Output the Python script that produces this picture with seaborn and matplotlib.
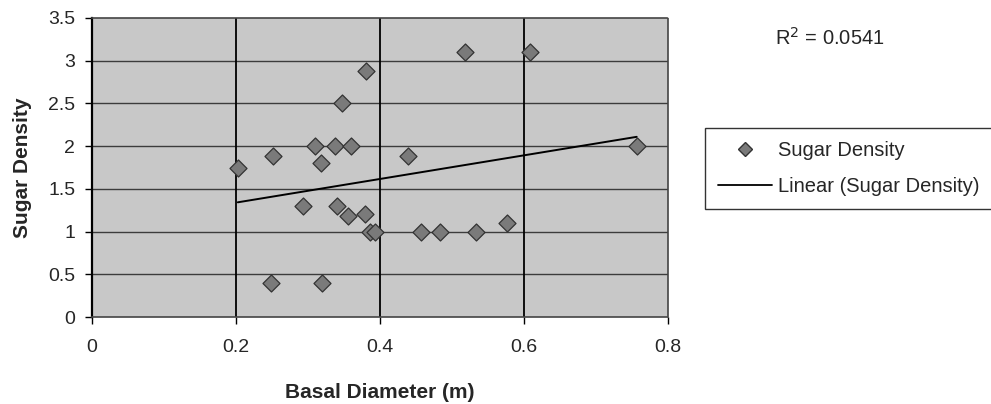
import numpy as np
import pandas as pd
import matplotlib
matplotlib.use("Agg")
import matplotlib.pyplot as plt
import seaborn as sns
from matplotlib.lines import Line2D

# Data
basal_diameter = [0.2025, 0.251, 0.310, 0.3375, 0.360, 0.318, 0.3806, 0.347, 0.439,
                  0.2926, 0.340, 0.356, 0.379, 0.386, 0.393, 0.248, 0.320,
                  0.518, 0.609, 0.7565, 0.4565, 0.483, 0.534, 0.577]
sugar_density = [1.75, 1.88, 2.0, 2.0, 2.0, 1.8, 2.88, 2.5, 1.88,
                 1.3, 1.3, 1.18, 1.2, 1.0, 1.0, 0.4, 0.4,
                 3.1, 3.1, 2.0, 1.0, 1.0, 1.0, 1.1]
r2_label = "R$^2$ = 0.0541"
x_ticks = [0, 0.2, 0.4, 0.6, 0.8]
x_tick_labels = ['0', '0.2', '0.4', '0.6', '0.8']
y_ticks = [0, 0.5, 1, 1.5, 2, 2.5, 3, 3.5]
y_tick_labels = ['0', '0.5', '1', '1.5', '2', '2.5', '3', '3.5']

df = pd.DataFrame({"Basal Diameter (m)": basal_diameter, "Sugar Density": sugar_density})

sns.set_theme(style="white")
plt.rcParams['font.family'] = ['Liberation Sans', 'DejaVu Sans']

fig = plt.figure(figsize=(9.91, 4.04), dpi=100)
ax = fig.add_axes([92/991, 1 - 317/404, (668-92)/991, (317-18)/404])
ax.set_facecolor('#c8c8c8')

# trend line
slope, intercept = np.polyfit(basal_diameter, sugar_density, 1)
xs = np.array([min(basal_diameter), max(basal_diameter)])
trend = pd.DataFrame({"x": xs, "y": slope * xs + intercept})
sns.lineplot(data=trend, x="x", y="y", ax=ax, color='black', lw=1.4, zorder=3)

sns.scatterplot(data=df, x="Basal Diameter (m)", y="Sugar Density", ax=ax,
                marker='D', s=75, color='#7a7a7a', edgecolor='#333333',
                linewidth=0.9, zorder=4)

ax.set_xlim(0, 0.8)
ax.set_ylim(0, 3.5)
ax.set_xticks(x_ticks)
ax.set_xticklabels(x_tick_labels)
ax.set_yticks(y_ticks)
ax.set_yticklabels(y_tick_labels)
ax.tick_params(axis='both', labelsize=14, length=5, width=1, color='black',
               direction='out', bottom=True, left=True)
ax.tick_params(axis='x', pad=11)
ax.tick_params(axis='y', pad=7)

for y in y_ticks[1:-1]:
    ax.axhline(y, color='#3c3c3c', lw=1.0, zorder=1)
for x in x_ticks[1:-1]:
    ax.axvline(x, color='black', lw=1.3, zorder=1)

for side in ['top', 'right', 'bottom']:
    ax.spines[side].set_color('#444444')
    ax.spines[side].set_linestyle((0, (1, 1)))
    ax.spines[side].set_linewidth(1.2)
ax.spines['left'].set_color('black')
ax.spines['left'].set_linewidth(1.6)

ax.set_xlabel("Basal Diameter (m)", fontsize=15, fontweight='bold', labelpad=19)
ax.set_ylabel("Sugar Density", fontsize=15, fontweight='bold', labelpad=12)

fig.text(775/991, 1 - 38/404, r2_label, fontsize=14.5, va='center', ha='left')

handles = [Line2D([], [], marker='D', ls='none', markersize=7, markerfacecolor='#7a7a7a',
                  markeredgecolor='#333333'),
           Line2D([], [], color='black', lw=1.3)]
leg = fig.legend(handles, ['Sugar Density', 'Linear (Sugar Density)'],
                 loc='upper left', bbox_to_anchor=(705/991, 1 - 128/404),
                 frameon=True, fontsize=14.5, handlelength=2.7, handletextpad=0.25,
                 borderpad=0.65, labelspacing=0.85, fancybox=False, borderaxespad=0)
leg.get_frame().set_edgecolor('black')
leg.get_frame().set_linewidth(1.0)

fig.savefig('out.png', dpi=100)
